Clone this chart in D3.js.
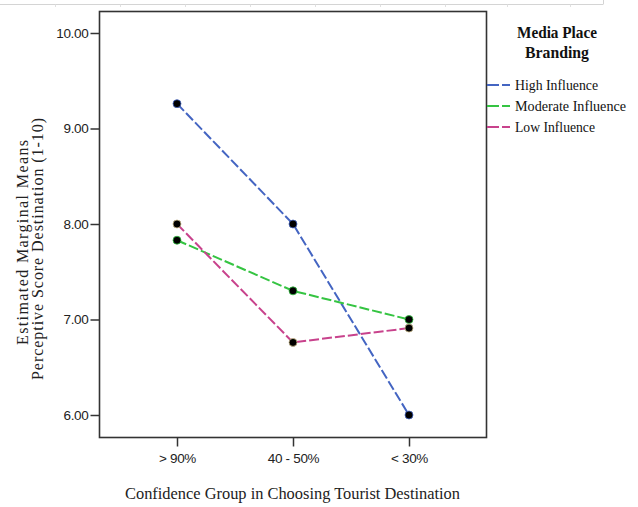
<!DOCTYPE html>
<html>
<head>
<meta charset="utf-8">
<script src="https://cdn.jsdelivr.net/npm/d3@7"></script>
<style>
  body { margin: 0; background: #fff; }
</style>
</head>
<body>
<script>
// chart data
var groups = ['> 90%', '40 - 50%', '< 30%'];
var seriesNames = ['High Influence', 'Moderate Influence', 'Low Influence'];
var highVals = [9.26, 8.00, 6.00];
var moderateVals = [7.83, 7.30, 7.00];
var lowVals = [8.00, 6.76, 6.91];
var yTicks = [6, 7, 8, 9, 10];
var colors = ['#4465c2', '#35c442', '#c8428c'];

var series = [highVals, moderateVals, lowVals];

var svg = d3.select('body')
            .append('svg')
            .attr('width', 638)
            .attr('height', 507)
            .style('background', '#fff');

// faint border at the top (part of the screenshot)
svg.append('line')
   .attr('x1', 0).attr('x2', 603)
   .attr('y1', 4.5).attr('y2', 4.5)
   .attr('stroke', '#d4d4d4');
svg.append('line')
   .attr('x1', 603.5).attr('x2', 603.5)
   .attr('y1', 0).attr('y2', 4.5)
   .attr('stroke', '#d4d4d4');
svg.selectAll('.topTick')
   .data([55, 120, 185, 250, 315, 380, 445, 507, 570])
   .enter()
   .append('line')
   .attr('x1', d => d + 0.5).attr('x2', d => d + 0.5)
   .attr('y1', 4.5).attr('y2', 7)
   .attr('stroke', '#e0e0e0');

// plot frame (don't call it "top", that's window.top)
var pLeft = 99, pTop = 11, pRight = 486, pBottom = 437;

var x = d3.scalePoint()
          .domain(groups)
          .range([177, 409]);

var y = d3.scaleLinear()
          .domain([6, 10])
          .range([415, 33]);

svg.append('rect')
   .attr('x', pLeft + 0.5)
   .attr('y', pTop + 0.5)
   .attr('width', pRight - pLeft)
   .attr('height', pBottom - pTop)
   .attr('fill', 'none')
   .attr('stroke', '#333')
   .attr('stroke-width', 1.6);

var sans = '"Liberation Sans", Arial, sans-serif';
var serif = '"Liberation Serif", "DejaVu Serif", serif';

// y axis
var yAxis = svg.append('g')
               .attr('transform', 'translate(' + (pLeft + 0.5) + ',0)')
               .call(d3.axisLeft(y)
                       .tickValues(yTicks)
                       .tickFormat(d3.format('.2f'))
                       .tickSize(9)
                       .tickPadding(2));
yAxis.select('.domain').remove();
yAxis.selectAll('line').attr('stroke', '#333').attr('stroke-width', 1.5);
yAxis.selectAll('text')
     .attr('fill', '#222')
     .style('font-family', sans)
     .style('font-size', '13.5px')
     .style('letter-spacing', '-0.3px');

// x axis
var xAxis = svg.append('g')
               .attr('transform', 'translate(0,' + (pBottom + 0.5) + ')')
               .call(d3.axisBottom(x)
                       .tickSize(9)
                       .tickPadding(7));
xAxis.select('.domain').remove();
xAxis.selectAll('line').attr('stroke', '#333').attr('stroke-width', 1.5);
xAxis.selectAll('text')
     .attr('fill', '#222')
     .style('font-family', sans)
     .style('font-size', '13.5px')
     .style('letter-spacing', '-0.3px');

// axis titles
svg.append('text')
   .attr('x', 125)
   .attr('y', 499)
   .attr('textLength', 335)
   .attr('lengthAdjust', 'spacingAndGlyphs')
   .style('font-family', serif)
   .style('font-size', '16px')
   .attr('fill', '#222')
   .text('Confidence Group in Choosing Tourist Destination');

var yTitle = svg.append('text')
                .attr('transform', 'rotate(-90)')
                .style('font-family', serif)
                .style('font-size', '16px')
                .attr('fill', '#222');
yTitle.append('tspan')
      .attr('x', -345).attr('y', 28)
      .attr('textLength', 205)
      .attr('lengthAdjust', 'spacing')
      .text('Estimated Marginal Means');
yTitle.append('tspan')
      .attr('x', -380).attr('y', 43)
      .attr('textLength', 262)
      .attr('lengthAdjust', 'spacing')
      .text('Perceptive Score Destination (1-10)');

// lines
var line = d3.line()
             .x((d, i) => x(groups[i]))
             .y(d => y(d));

svg.append('g')
   .selectAll('path')
   .data(series)
   .enter()
   .append('path')
   .attr('d', line)
   .attr('fill', 'none')
   .attr('stroke', (d, i) => colors[i])
   .attr('stroke-width', 2)
   .attr('stroke-dasharray', '10,3');

// markers
series.forEach(function (vals, s) {
  svg.append('g')
     .selectAll('circle')
     .data(vals)
     .enter()
     .append('circle')
     .attr('cx', (d, i) => x(groups[i]))
     .attr('cy', d => y(d))
     .attr('r', 4)
     .attr('fill', '#000')
     .attr('stroke', s === 2 ? '#c9b98a' : colors[s])
     .attr('stroke-width', 0.8);
});

// legend
var legend = svg.append('g');
var titleLines = [['Media Place', 517, 80], ['Branding', 525, 64]];
legend.selectAll('.ltitle')
      .data(titleLines)
      .enter()
      .append('text')
      .attr('x', d => d[1])
      .attr('y', (d, i) => 38 + i * 20)
      .attr('textLength', d => d[2])
      .attr('lengthAdjust', 'spacingAndGlyphs')
      .style('font-family', serif)
      .style('font-size', '16px')
      .style('font-weight', 'bold')
      .attr('fill', '#111')
      .text(d => d[0]);

var itemWidths = [83, 111, 80];
var items = legend.selectAll('.item')
                  .data(seriesNames)
                  .enter()
                  .append('g')
                  .attr('transform', (d, i) => 'translate(487,' + (85 + i * 21) + ')');
items.append('line')
     .attr('x1', 0).attr('x2', 26)
     .attr('stroke', (d, i) => colors[i])
     .attr('stroke-width', 2)
     .attr('stroke-dasharray', '12,3,8,3');
items.append('text')
     .attr('x', 28)
     .attr('y', 4.5)
     .attr('textLength', (d, i) => itemWidths[i])
     .attr('lengthAdjust', 'spacingAndGlyphs')
     .style('font-family', serif)
     .style('font-size', '14px')
     .attr('fill', '#111')
     .text(d => d);
</script>
</body>
</html>
